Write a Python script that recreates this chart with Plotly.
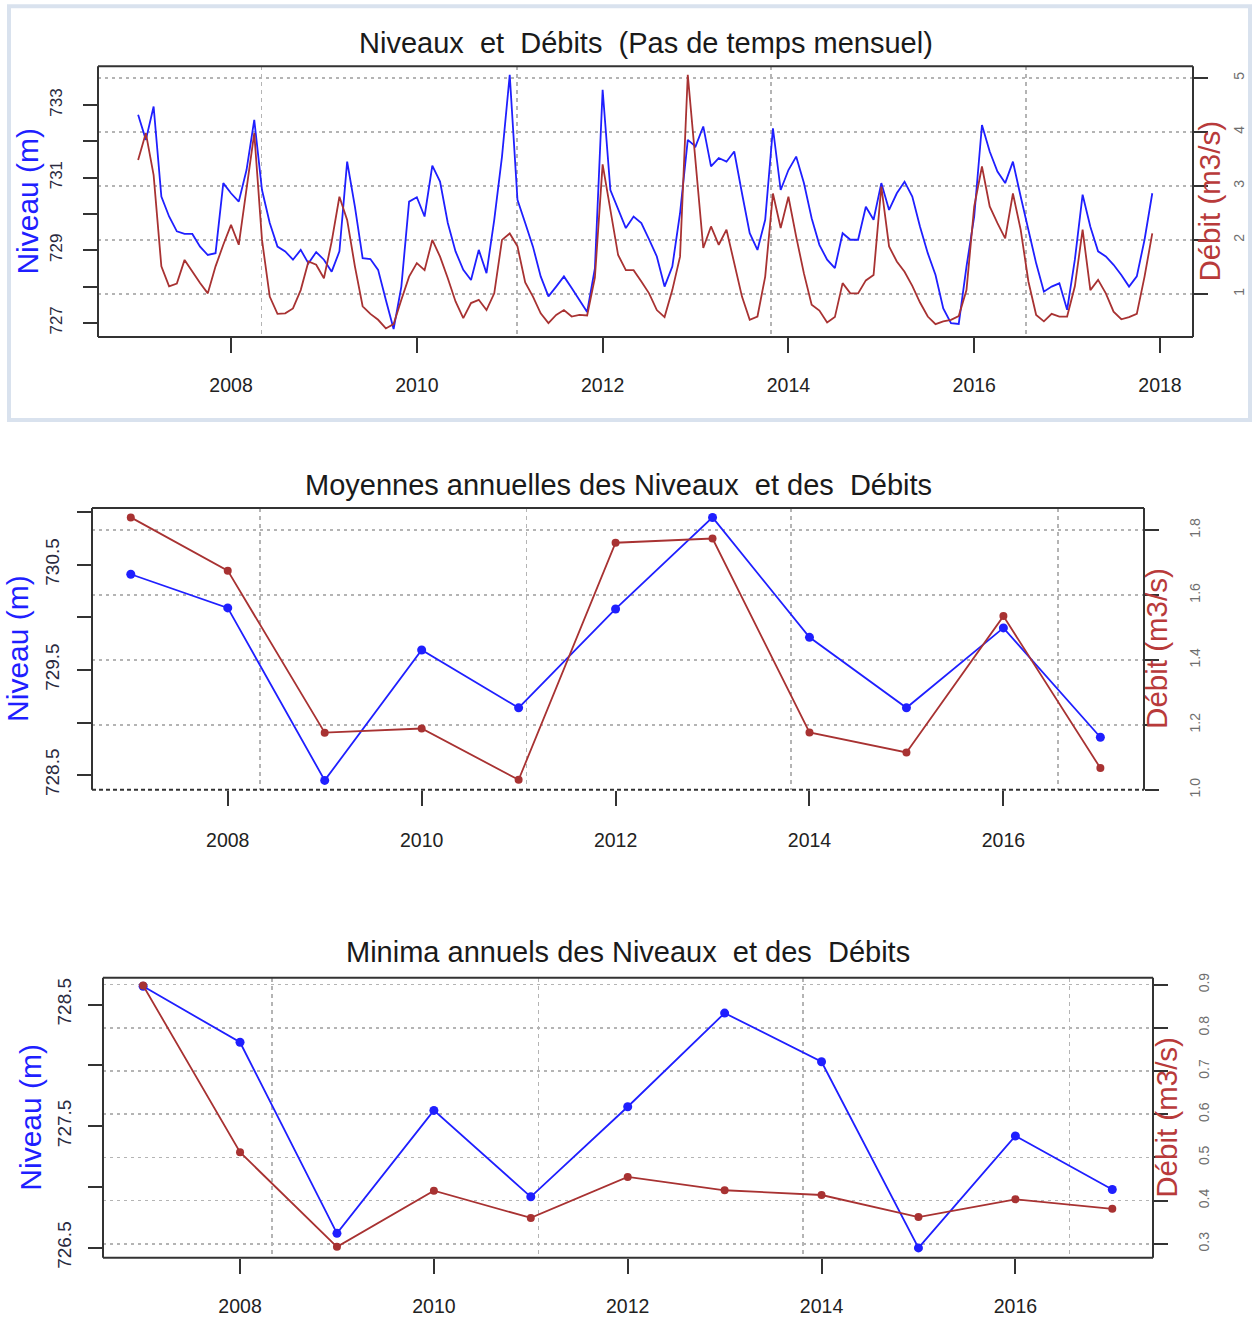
import plotly.graph_objects as go

W, H = 1253, 1318

# ---------------- data ----------------
START_YEAR = 2007
N_MONTHS = 132
NIVEAU_MENSUEL = [
    732.73, 732.04, 732.96, 730.48, 729.93, 729.52, 729.45, 729.45, 729.10, 728.87, 728.92, 730.85,
    730.57, 730.34, 731.21, 732.59, 730.66, 729.75, 729.10, 728.97, 728.74, 729.01, 728.64, 728.95,
    728.74, 728.41, 728.97, 731.44, 730.20, 728.78, 728.76, 728.46, 727.63, 726.83, 728.00, 730.34,
    730.46, 729.93, 731.33, 730.89, 729.75, 728.97, 728.46, 728.18, 729.01, 728.37, 729.84, 731.58,
    733.83, 730.39, 729.75, 729.10, 728.28, 727.73, 728.00, 728.28, 727.96, 727.63, 727.30, 728.50,
    733.42, 730.66, 730.11, 729.61, 729.93, 729.75, 729.30, 728.83, 728.00, 728.55, 730.02, 732.04,
    731.86, 732.41, 731.31, 731.54, 731.44, 731.72, 730.57, 729.47, 729.01, 729.84, 732.36, 730.66,
    731.21, 731.58, 730.85, 729.88, 729.15, 728.74, 728.51, 729.47, 729.29, 729.29, 730.20, 729.84,
    730.85, 730.11, 730.57, 730.89, 730.48, 729.65, 728.92, 728.32, 727.40, 726.99, 726.97, 728.55,
    729.93, 732.45, 731.72, 731.17, 730.85, 731.44, 730.48, 729.56, 728.64, 727.86, 728.00, 728.09,
    727.36, 728.74, 730.53, 729.65, 728.97, 728.83, 728.60, 728.32, 728.00, 728.28, 729.29, 730.57,
]
DEBIT_MENSUEL = [
    3.48, 3.98, 3.20, 1.51, 1.14, 1.19, 1.63, 1.41, 1.20, 1.01, 1.51, 1.91,
    2.28, 1.91, 2.96, 3.98, 2.00, 0.95, 0.63, 0.64, 0.73, 1.07, 1.60, 1.54,
    1.29, 1.97, 2.80, 2.37, 1.51, 0.77, 0.63, 0.52, 0.36, 0.44, 0.89, 1.32,
    1.57, 1.44, 2.00, 1.69, 1.29, 0.86, 0.55, 0.83, 0.89, 0.70, 1.01, 2.00,
    2.12, 1.88, 1.21, 0.95, 0.64, 0.46, 0.61, 0.70, 0.58, 0.61, 0.60, 1.30,
    3.40, 2.56, 1.72, 1.44, 1.44, 1.23, 1.01, 0.70, 0.57, 1.07, 1.69, 5.06,
    3.48, 1.85, 2.25, 1.91, 2.19, 1.57, 0.95, 0.52, 0.58, 1.32, 2.86, 2.22,
    2.80, 2.06, 1.38, 0.80, 0.69, 0.47, 0.57, 1.20, 1.01, 1.01, 1.25, 1.35,
    2.99, 1.88, 1.60, 1.41, 1.15, 0.84, 0.58, 0.44, 0.49, 0.52, 0.59, 1.07,
    2.62, 3.36, 2.62, 2.31, 2.03, 2.86, 2.19, 1.23, 0.61, 0.49, 0.63, 0.58,
    0.58, 1.14, 2.19, 1.07, 1.26, 1.01, 0.67, 0.53, 0.57, 0.63, 1.32, 2.12,
]
TEMPS = [START_YEAR + i / 12 for i in range(N_MONTHS)]

ANNEES = list(range(2007, 2018))
NIVEAU_MOYEN = [730.41, 730.09, 728.45, 729.69, 729.14, 730.08, 730.95, 729.81, 729.14, 729.90, 728.86]
DEBIT_MOYEN = [1.839, 1.675, 1.176, 1.189, 1.031, 1.761, 1.774, 1.177, 1.115, 1.535, 1.067]
NIVEAU_MIN = [728.65, 728.19, 726.62, 727.63, 726.92, 727.66, 728.43, 728.03, 726.50, 727.42, 726.98]
DEBIT_MIN = [0.898, 0.512, 0.293, 0.423, 0.360, 0.455, 0.424, 0.413, 0.362, 0.403, 0.381]

# tick labels
P1_XTICKS = [2008, 2010, 2012, 2014, 2016, 2018]
P23_XTICKS = [2008, 2010, 2012, 2014, 2016]
P1_LEFT_VALS = [727, 728, 729, 730, 731, 732, 733]
P1_LEFT_TEXT = ["727", "", "729", "", "731", "", "733"]
P1_RIGHT_VALS = [1, 2, 3, 4, 5]
P1_RIGHT_TEXT = ["1", "2", "3", "4", "5"]
P2_LEFT_VALS = [728.5, 729.0, 729.5, 730.0, 730.5, 731.0]
P2_LEFT_TEXT = ["728.5", "", "729.5", "", "730.5", ""]
P2_RIGHT_VALS = [1.0, 1.2, 1.4, 1.6, 1.8]
P2_RIGHT_TEXT = ["1.0", "1.2", "1.4", "1.6", "1.8"]
P3_LEFT_VALS = [726.5, 727.0, 727.5, 728.0, 728.5]
P3_LEFT_TEXT = ["726.5", "", "727.5", "", "728.5"]
P3_RIGHT_VALS = [0.3, 0.4, 0.5, 0.6, 0.7, 0.8, 0.9]
P3_RIGHT_TEXT = ["0.3", "0.4", "0.5", "0.6", "0.7", "0.8", "0.9"]

TITLES = [
    "Niveaux  et  Débits  (Pas de temps mensuel)",
    "Moyennes annuelles des Niveaux  et des  Débits",
    "Minima annuels des Niveaux  et des  Débits",
]
LAB_NIV = "Niveau (m)"
LAB_DEB = "Débit (m3/s)"

# ---------------- style ----------------
BLUE = "#1f1fff"
RED = "#a83232"
FONT = "Liberation Sans, Arial, sans-serif"
GRID = "#b4b4b4"
AXC = "#333333"
VGRID = [2008.33, 2011.08, 2013.81, 2016.56]

# the photographed page comes out slightly squeezed vertically; pre-compensate
Y_SCALE = 0.9883
Y_OFF = 4.8


def px_x(x):
    return x / W


def px_y(y):
    return 1 - ((y - Y_OFF) / Y_SCALE) / H


fig = go.Figure()

# panel geometry (target pixels): left, right, top, bottom
PANELS = [
    dict(l=98, r=1193, t=66, b=337, xr=[2006.568, 2018.355], yl=[726.61, 734.07], yr=[0.20, 5.22],
         xt=P1_XTICKS, lv=P1_LEFT_VALS, lt=P1_LEFT_TEXT, rv=P1_RIGHT_VALS, rt=P1_RIGHT_TEXT,
         lstand=14, rstand=19, xstand=16, lfs=17, title_y=43, ltx=28, rtx=1210),
    dict(l=92, r=1144, t=508, b=790, xr=[2006.60, 2017.45], yl=[728.36, 731.04], yr=[1.0, 1.868],
         xt=P23_XTICKS, lv=P2_LEFT_VALS, lt=P2_LEFT_TEXT, rv=P2_RIGHT_VALS, rt=P2_RIGHT_TEXT,
         lstand=10, rstand=24, xstand=18, lfs=19, title_y=485, ltx=18, rtx=1157),
    dict(l=103, r=1153, t=978, b=1258, xr=[2006.586, 2017.42], yl=[726.42, 728.72], yr=[0.268, 0.916],
         xt=P23_XTICKS, lv=P3_LEFT_VALS, lt=P3_LEFT_TEXT, rv=P3_RIGHT_VALS, rt=P3_RIGHT_TEXT,
         lstand=9, rstand=24, xstand=16, lfs=19, title_y=952, ltx=31, rtx=1167),
]

SERIES = [
    (TEMPS, NIVEAU_MENSUEL, DEBIT_MENSUEL, "lines"),
    (ANNEES, NIVEAU_MOYEN, DEBIT_MOYEN, "lines+markers"),
    (ANNEES, NIVEAU_MIN, DEBIT_MIN, "lines+markers"),
]

layout = {}
shapes = []
annotations = []

for i, (p, s) in enumerate(zip(PANELS, SERIES)):
    xi = i + 1
    yl_id = 2 * i + 1
    yr_id = 2 * i + 2
    xname = "xaxis" if xi == 1 else f"xaxis{xi}"
    ylname = "yaxis" if yl_id == 1 else f"yaxis{yl_id}"
    yrname = f"yaxis{yr_id}"
    xref = "x" if xi == 1 else f"x{xi}"
    ylref = "y" if yl_id == 1 else f"y{yl_id}"
    yrref = f"y{yr_id}"

    dom_x = [px_x(p["l"]), px_x(p["r"])]
    dom_y = [px_y(p["b"]), px_y(p["t"])]

    layout[xname] = dict(
        domain=dom_x, anchor=ylref, range=p["xr"], tickvals=p["xt"],
        ticktext=[str(v) for v in p["xt"]], ticks="outside", ticklen=15, tickwidth=2,
        tickcolor=AXC, showgrid=False, zeroline=False, showline=False,
        tickfont=dict(family=FONT, size=19.5, color="#222"), ticklabelstandoff=p["xstand"],
        minor=dict(tickvals=VGRID, showgrid=True, gridcolor=GRID, griddash="4px,4px",
                   gridwidth=1.6, ticks=""),
    )
    layout[ylname] = dict(
        domain=dom_y, anchor=xref, range=p["yl"], tickvals=p["lv"], ticktext=p["lt"],
        ticks="outside", ticklen=14, tickwidth=2, tickcolor=AXC, showgrid=False,
        zeroline=False, showline=False, tickangle=-90,
        tickfont=dict(family=FONT, size=p["lfs"], color="#2a2a40"), ticklabelstandoff=p["lstand"],
    )
    layout[yrname] = dict(
        domain=dom_y, anchor=xref, overlaying=ylref, side="right", range=p["yr"],
        tickvals=p["rv"], ticktext=p["rt"], ticks="outside", ticklen=14, tickwidth=2,
        tickcolor=AXC, showgrid=True, gridcolor=GRID, griddash="3px,4px", gridwidth=1.6,
        zeroline=False, showline=False, tickangle=-90,
        tickfont=dict(family=FONT, size=14, color="#6f6f6f"), ticklabelstandoff=p["rstand"],
    )

    x, niv, deb, mode = s
    fig.add_trace(go.Scatter(
        x=x, y=deb, mode=mode, xaxis=xref, yaxis=yrref, showlegend=False, hoverinfo="skip",
        line=dict(color=RED, width=1.8), marker=dict(color=RED, size=8),
    ))
    fig.add_trace(go.Scatter(
        x=x, y=niv, mode=mode, xaxis=xref, yaxis=ylref, showlegend=False, hoverinfo="skip",
        line=dict(color=BLUE, width=1.8), marker=dict(color=BLUE, size=9),
    ))

    # frame
    xd = f"{xref} domain"
    yd = f"{ylref} domain"
    frame = dict(color="#333", width=2)
    shapes.append(dict(type="line", xref=xd, yref=yd, x0=0, x1=0, y0=0, y1=1, line=frame, layer="above"))
    shapes.append(dict(type="line", xref=xd, yref=yd, x0=1, x1=1, y0=0, y1=1, line=frame, layer="above"))
    shapes.append(dict(type="line", xref=xd, yref=yd, x0=0, x1=1, y0=1, y1=1, line=frame, layer="above"))
    if i == 1:
        shapes.append(dict(type="line", xref=xd, yref=yd, x0=0, x1=1, y0=0, y1=0,
                           line=dict(color="#333", width=2, dash="4px,3px"), layer="above"))
    else:
        shapes.append(dict(type="line", xref=xd, yref=yd, x0=0, x1=1, y0=0, y1=0, line=frame, layer="above"))

    cy = px_y((p["t"] + p["b"]) / 2)
    annotations.append(dict(
        text=TITLES[i], xref="paper", yref="paper", x=px_x((p["l"] + p["r"]) / 2),
        y=px_y(p["title_y"]), showarrow=False, xanchor="center", yanchor="middle",
        font=dict(family=FONT, size=29, color="#1a1a1a"),
    ))
    annotations.append(dict(
        text=LAB_NIV, xref="paper", yref="paper", x=px_x(p["ltx"]), y=cy, textangle=-90,
        showarrow=False, xanchor="center", yanchor="middle",
        font=dict(family=FONT, size=30, color=BLUE),
    ))
    annotations.append(dict(
        text=LAB_DEB, xref="paper", yref="paper", x=px_x(p["rtx"]), y=cy, textangle=-90,
        showarrow=False, xanchor="center", yanchor="middle",
        font=dict(family=FONT, size=29.5, color="#b83a3a"),
    ))

# light border around the first panel (screenshot frame)
shapes.append(dict(type="rect", xref="paper", yref="paper", x0=px_x(9), x1=px_x(1250),
                   y0=px_y(420), y1=px_y(6), line=dict(color="#d9e2ee", width=4), layer="below"))

fig.update_layout(
    width=W, height=H, autosize=False,
    margin=dict(l=0, r=0, t=0, b=0, pad=0),
    paper_bgcolor="white", plot_bgcolor="white",
    shapes=shapes, annotations=annotations, showlegend=False, hovermode=False,
    **layout,
)

fig.write_html(
    "out.html",
    config={"displayModeBar": False, "staticPlot": True},
    post_script="document.body.style.margin='0';document.body.style.overflow='hidden';",
)
